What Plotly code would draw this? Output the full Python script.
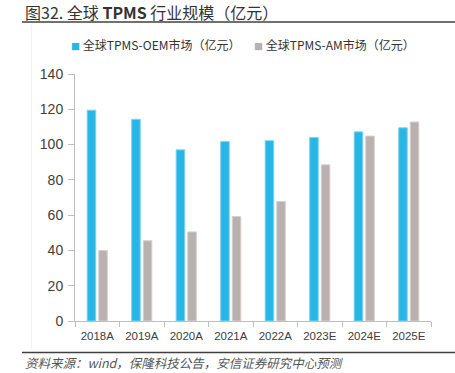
import plotly.graph_objects as go

categories = ["2018A", "2019A", "2020A", "2021A", "2022A", "2023E", "2024E", "2025E"]
oem_values = [119.5, 114.3, 97.0, 101.7, 102.2, 104.0, 107.2, 109.5]
am_values = [40.0, 45.5, 50.5, 59.2, 67.7, 88.5, 104.8, 112.8]
oem_name = "全球TPMS-OEM市场（亿元）"
am_name = "全球TPMS-AM市场（亿元）"
y_ticks = [0, 20, 40, 60, 80, 100, 120, 140]

BLUE = "#27B6E6"
GRAY = "#B9B1AF"

def legend_label(name, color):
    return f'<span style="color:{color};font-size:9px">■</span> {name}'

fig = go.Figure()
fig.add_trace(go.Bar(x=categories, y=oem_values, name=oem_name, showlegend=False,
                     marker=dict(color=BLUE, line=dict(color="#7FD3F0", width=1))))
fig.add_trace(go.Bar(x=categories, y=am_values, name=am_name, showlegend=False,
                     marker=dict(color=GRAY, line=dict(color="#D6D0CE", width=1))))
# legend entries (small square drawn as part of the label)
fig.add_trace(go.Scatter(x=[None], y=[None], mode="markers", name=legend_label(oem_name, BLUE),
                         legend="legend",
                         marker=dict(symbol="square", size=1, color="rgba(0,0,0,0)")))
fig.add_trace(go.Scatter(x=[None], y=[None], mode="markers", name=legend_label(am_name, GRAY),
                         legend="legend2",
                         marker=dict(symbol="square", size=1, color="rgba(0,0,0,0)")))

PL, PR, PT, PB = 75, 431, 74, 321
W, H = 455, 373
pw, ph = PR - PL, PB - PT

def px(x):
    return (x - PL) / pw

def py(y):
    return (PB - y) / ph

legend_common = dict(orientation="h", xanchor="left", yanchor="middle", y=py(45),
                     font=dict(family="Noto Sans CJK SC", size=12, color="#333333"),
                     itemwidth=30, bgcolor="rgba(0,0,0,0)")

fig.update_layout(
    width=W, height=H,
    margin=dict(l=PL, r=W - PR, t=PT, b=H - PB, pad=0, autoexpand=False),
    paper_bgcolor="white", plot_bgcolor="white",
    barmode="group", bargap=0.48, bargroupgap=0.26,
    font=dict(family="Liberation Sans, Arial", color="#404040"),
    legend=dict(x=px(31), **legend_common),
    legend2=dict(x=px(214), **legend_common),
    xaxis=dict(showline=True, linecolor="#BFBFBF", linewidth=1, ticks="outside",
               tickson="boundaries", ticklen=5, tickcolor="#BFBFBF",
               tickfont=dict(size=11.5, color="#404040"), showgrid=False, zeroline=False,
               ticklabelstandoff=4),
    yaxis=dict(range=[0, 140], tickvals=y_ticks, showline=True, linecolor="#BFBFBF",
               linewidth=1, ticks="outside", ticklen=6, tickcolor="#BFBFBF",
               tickfont=dict(size=14, color="#404040"), showgrid=False, zeroline=False,
               ticklabelstandoff=2),
    showlegend=True,
)

fig.add_annotation(text="图32. 全球 <b>TPMS</b> 行业规模（亿元）", xref="paper", yref="paper",
                   x=px(23), y=py(12), xanchor="left", yanchor="middle", showarrow=False,
                   font=dict(family="Noto Sans CJK SC", size=16, color="#333333"))
fig.add_annotation(text="<i>资料来源：wind，保隆科技公告，安信证券研究中心预测</i>", xref="paper", yref="paper",
                   x=px(23), y=py(362), xanchor="left", yanchor="middle", showarrow=False,
                   font=dict(family="Noto Sans CJK SC", size=12.5, color="#555555"))
fig.add_shape(type="line", xref="paper", yref="paper", x0=px(22), x1=px(455), y0=py(22), y1=py(22),
              line=dict(color="#404040", width=1.5))
fig.add_shape(type="line", xref="paper", yref="paper", x0=px(22), x1=px(455), y0=py(352.5), y1=py(352.5),
              line=dict(color="#404040", width=1.5))
fig.add_shape(type="line", xref="paper", yref="paper", x0=px(31.5), x1=px(31.5), y0=py(25), y1=py(349),
              line=dict(color="#F2F2F2", width=1))

fig.write_html("out.html", config={"displayModeBar": False},
               post_script="document.body.style.margin='0';document.body.style.overflow='hidden';")
